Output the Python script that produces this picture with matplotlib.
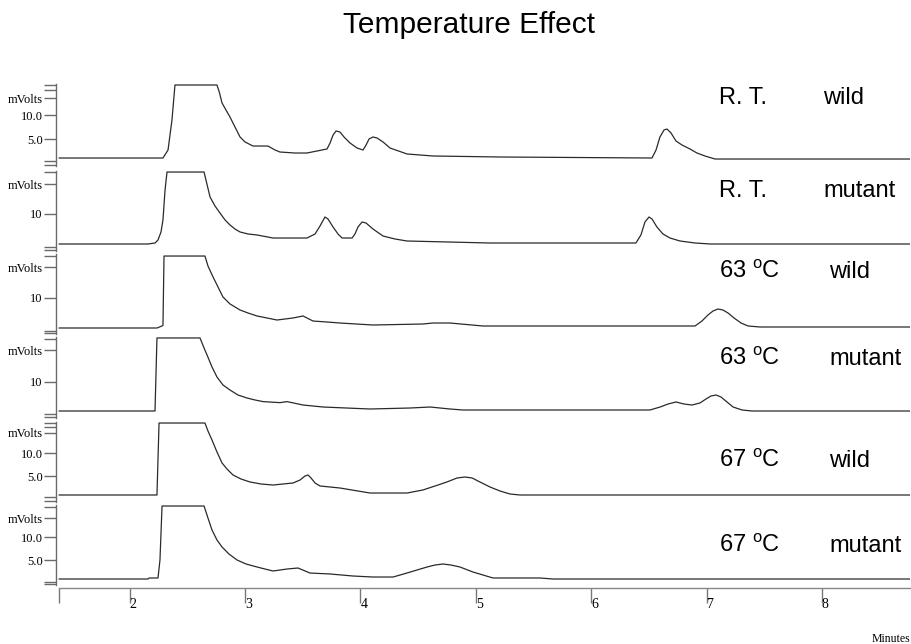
# Chromatograms: temperature effect, six stacked traces

import matplotlib
matplotlib.use("Agg")
import matplotlib.pyplot as plt

plt.rcParams['mathtext.fontset'] = 'custom'
plt.rcParams['mathtext.rm'] = 'Liberation Sans'


# Data (time in minutes, signal in mVolts) :

rt_wild_t = [1.39, 2.289, 2.333, 2.367, 2.393, 2.757, 2.777, 2.801, 2.835, 2.870, 2.913,
             2.957, 3.000, 3.069, 3.199, 3.260, 3.303, 3.433, 3.537, 3.711, 3.737, 3.763,
             3.789, 3.823, 3.858, 3.910, 3.971, 4.023, 4.049, 4.075, 4.109, 4.144, 4.196,
             4.257, 4.404, 4.629, 5.210, 6.527, 6.562, 6.596, 6.631, 6.657, 6.692, 6.735,
             6.787, 6.856, 6.917, 6.986, 7.073, 8.76]
rt_wild_mv = [1.04, 1.04, 2.71, 8.96, 16.25, 16.25, 14.79, 12.5, 11.04, 9.58, 7.5,
              5.42, 4.38, 3.54, 3.54, 2.71, 2.29, 2.08, 2.08, 2.92, 4.17, 5.83,
              6.67, 6.46, 5.42, 4.17, 3.12, 2.71, 3.75, 5.0, 5.42, 5.21, 4.38,
              3.12, 1.88, 1.46, 1.25, 1.04, 2.71, 5.42, 6.88, 7.08, 6.25, 4.58,
              3.75, 2.92, 2.08, 1.46, 0.83, 0.83]

rt_mut_t = [1.39, 2.159, 2.220, 2.246, 2.272, 2.289, 2.307, 2.324, 2.645, 2.672, 2.697,
            2.740, 2.783, 2.827, 2.870, 2.913, 2.957, 3.026, 3.104, 3.243, 3.537, 3.607,
            3.650, 3.693, 3.719, 3.763, 3.806, 3.841, 3.928, 3.953, 3.979, 4.014, 4.049,
            4.109, 4.196, 4.300, 4.404, 5.123, 6.388, 6.431, 6.466, 6.501, 6.527, 6.570,
            6.622, 6.683, 6.770, 6.900, 7.030, 8.76]
rt_mut_mv = [1.28, 1.28, 1.57, 2.44, 4.77, 8.26, 16.98, 22.2, 22.2, 18.43, 14.94,
             12.33, 10.29, 8.26, 6.80, 5.64, 4.77, 4.19, 3.90, 3.02, 3.02, 4.19,
             6.51, 9.13, 8.55, 6.22, 4.19, 3.02, 3.02, 4.19, 6.22, 7.67, 7.38,
             5.64, 3.60, 2.73, 2.15, 1.57, 1.57, 3.90, 7.67, 9.13, 8.55, 6.22,
             4.19, 3.02, 2.15, 1.57, 1.28, 1.28]

c63_wild_t = [1.39, 2.238, 2.289, 2.298, 2.653, 2.679, 2.723, 2.766, 2.809, 2.870, 2.957,
              3.026, 3.104, 3.191, 3.277, 3.416, 3.503, 3.589, 3.711, 3.823, 4.109, 4.542,
              4.629, 4.776, 5.062, 6.900, 6.960, 7.012, 7.056, 7.099, 7.142, 7.186, 7.238,
              7.299, 7.360, 7.464, 8.76]
c63_wild_mv = [1.28, 1.28, 2.0, 22.2, 22.2, 19.3, 16.1, 13.2, 10.29, 8.26, 6.51,
               5.64, 4.77, 4.19, 3.60, 4.19, 4.77, 3.31, 3.02, 2.73, 2.15, 2.44,
               2.73, 2.73, 1.86, 1.86, 3.31, 5.06, 6.22, 6.80, 6.51, 5.64, 4.19,
               2.73, 1.86, 1.57, 1.57]

c63_mut_t = [1.39, 2.220, 2.237, 2.610, 2.645, 2.671, 2.714, 2.757, 2.809, 2.870, 2.939,
             3.017, 3.087, 3.156, 3.303, 3.364, 3.503, 3.676, 4.083, 4.430, 4.605, 4.776,
             4.889, 6.510, 6.597, 6.666, 6.735, 6.804, 6.874, 6.943, 6.995, 7.038, 7.082,
             7.125, 7.177, 7.230, 7.308, 7.394, 8.76]
c63_mut_mv = [1.57, 1.57, 22.8, 22.8, 19.88, 17.85, 14.36, 11.45, 9.13, 7.67, 6.22,
              5.35, 4.77, 4.3, 4.0, 4.3, 3.31, 2.73, 2.15, 2.44, 2.73, 2.15,
              1.86, 1.86, 2.73, 3.60, 4.19, 3.60, 3.31, 3.90, 5.06, 5.93, 6.22,
              5.64, 4.19, 2.73, 1.86, 1.57, 1.57]

c67_wild_t = [1.39, 2.237, 2.255, 2.653, 2.679, 2.714, 2.757, 2.801, 2.844, 2.896, 2.965,
              3.043, 3.139, 3.243, 3.416, 3.477, 3.520, 3.546, 3.572, 3.607, 3.650, 3.823,
              4.083, 4.404, 4.542, 4.647, 4.750, 4.838, 4.906, 4.968, 5.036, 5.123, 5.210,
              5.296, 5.383, 8.76]
c67_wild_mv = [0.87, 0.87, 16.52, 16.52, 14.78, 12.83, 10.22, 7.83, 6.52, 5.22, 4.35,
               3.70, 3.26, 3.04, 3.48, 4.13, 5.0, 5.22, 4.57, 3.48, 2.83, 2.39,
               1.30, 1.30, 1.96, 2.83, 3.70, 4.57, 4.78, 4.57, 3.70, 2.61, 1.74,
               1.09, 0.87, 0.87]

c67_mut_t = [1.39, 2.159, 2.168, 2.246, 2.263, 2.281, 2.645, 2.679, 2.714, 2.757, 2.801,
             2.861, 2.931, 3.009, 3.104, 3.173, 3.243, 3.364, 3.459, 3.563, 3.737, 3.936,
             4.109, 4.283, 4.404, 4.491, 4.578, 4.647, 4.716, 4.785, 4.863, 4.975, 5.062,
             5.149, 5.556, 5.669, 8.76]
c67_mut_mv = [0.87, 0.87, 1.09, 1.09, 5.0, 16.74, 16.74, 14.13, 11.52, 9.35, 7.83,
              6.30, 5.0, 4.13, 3.48, 3.04, 2.61, 3.04, 3.26, 2.17, 1.96, 1.52,
              1.30, 1.30, 2.17, 2.83, 3.48, 3.91, 4.13, 3.91, 3.48, 2.39, 1.74,
              1.09, 1.09, 0.87, 0.87]

temps = ["R. T.", "R. T.", r"63 $^{\rm o}$C", r"63 $^{\rm o}$C", r"67 $^{\rm o}$C", r"67 $^{\rm o}$C"]
strains = ["wild", "mutant", "wild", "mutant", "wild", "mutant"]

# y ticks for each panel (value, label)
yticks = [
    [-0.42, 0.42, 13.54, 10.0, 5.0, 15.21, 16.25],
    [-0.47, 0.41, 18.72, 10.0, 22.2],
    [-0.17, 0.41, 19.01, 10.0, 22.2],
    [-0.17, 0.70, 19.3, 10.0, 22.5],
    [-0.43, 0.43, 14.35, 10.0, 5.0, 15.65, 16.52],
    [-0.22, 0.22, 14.13, 10.0, 5.0, 16.52],
]
ylabels = [
    ["", "", "mVolts", "10.0", "5.0", "", ""],
    ["", "", "mVolts", "10", ""],
    ["", "", "mVolts", "10", ""],
    ["", "", "mVolts", "10", ""],
    ["", "", "mVolts", "10.0", "5.0", "", ""],
    ["", "", "mVolts", "10.0", "5.0", ""],
]

x_ticks = [2, 3, 4, 5, 6, 7, 8]


# Layout (pixels) :

W, H = 911, 644
panel_px = [(84, 166), (171, 251), (254, 334), (337, 418), (422, 502), (505, 585)]
ylims = [(-0.625, 16.46), (-0.756, 22.5), (-0.465, 22.79), (-0.465, 23.08),
         (-0.652, 16.74), (-0.435, 16.96)]
label_base = [104, 197, 278, 365, 467, 552]
strain_x = [823, 823, 829, 829, 829, 829]

traces = [(rt_wild_t, rt_wild_mv), (rt_mut_t, rt_mut_mv),
          (c63_wild_t, c63_wild_mv), (c63_mut_t, c63_mut_mv),
          (c67_wild_t, c67_wild_mv), (c67_mut_t, c67_mut_mv)]

SANS = "Liberation Sans"
SERIF = "Liberation Serif"
AXC = "#6a6a6a"

fig = plt.figure(figsize=(W / 100, H / 100), dpi=100)

for i, (t, mv) in enumerate(traces):
    top, bot = panel_px[i]
    ax = fig.add_axes([56 / W, 1 - bot / H, 854 / W, (bot - top) / H])
    ax.plot(t, mv, color="#2a2a2a", linewidth=0.9)
    ax.set_xlim(1.362, 8.763)
    ax.set_ylim(*ylims[i])
    for s in ["top", "right", "bottom"]:
        ax.spines[s].set_visible(False)
    ax.spines["left"].set_color(AXC)
    ax.spines["left"].set_linewidth(1.0)
    ax.set_xticks([])
    ax.set_yticks(yticks[i])
    ax.set_yticklabels(ylabels[i], fontfamily=SERIF, fontsize=9)
    ax.tick_params(axis="y", direction="out", length=9, width=1.0, color=AXC, pad=0.5)
    ax.patch.set_alpha(0)

    fig.text(719 / W, 1 - label_base[i] / H, temps[i], fontfamily=SANS, fontsize=17,
             va="baseline", ha="left")
    fig.text(strain_x[i] / W, 1 - label_base[i] / H, strains[i], fontfamily=SANS, fontsize=17,
             va="baseline", ha="left")

# bottom time axis
axx = fig.add_axes([59 / W, 1 - 588 / H, 851 / W, 1 / H])
axx.set_xlim(1.388, 8.763)
axx.set_ylim(0, 1)
for s in ["top", "right", "left"]:
    axx.spines[s].set_visible(False)
axx.spines["bottom"].set_color("#888888")
axx.spines["bottom"].set_linewidth(1.0)
axx.set_yticks([])
axx.set_xticks([1.388] + x_ticks)
axx.set_xticklabels([""] + [str(v) for v in x_ticks], fontfamily=SERIF, fontsize=10, ha="left")
axx.tick_params(axis="x", direction="out", length=11, width=1.0, color="#777777", pad=-4)
axx.patch.set_alpha(0)

fig.text(469 / W, 1 - 25 / H, "Temperature Effect", fontfamily=SANS, fontsize=21.5,
         ha="center", va="center")
fig.text(910 / W, 1 - 642 / H, "Minutes", fontfamily=SERIF, fontsize=8.5,
         ha="right", va="baseline")

fig.savefig("out.png", dpi=100)
